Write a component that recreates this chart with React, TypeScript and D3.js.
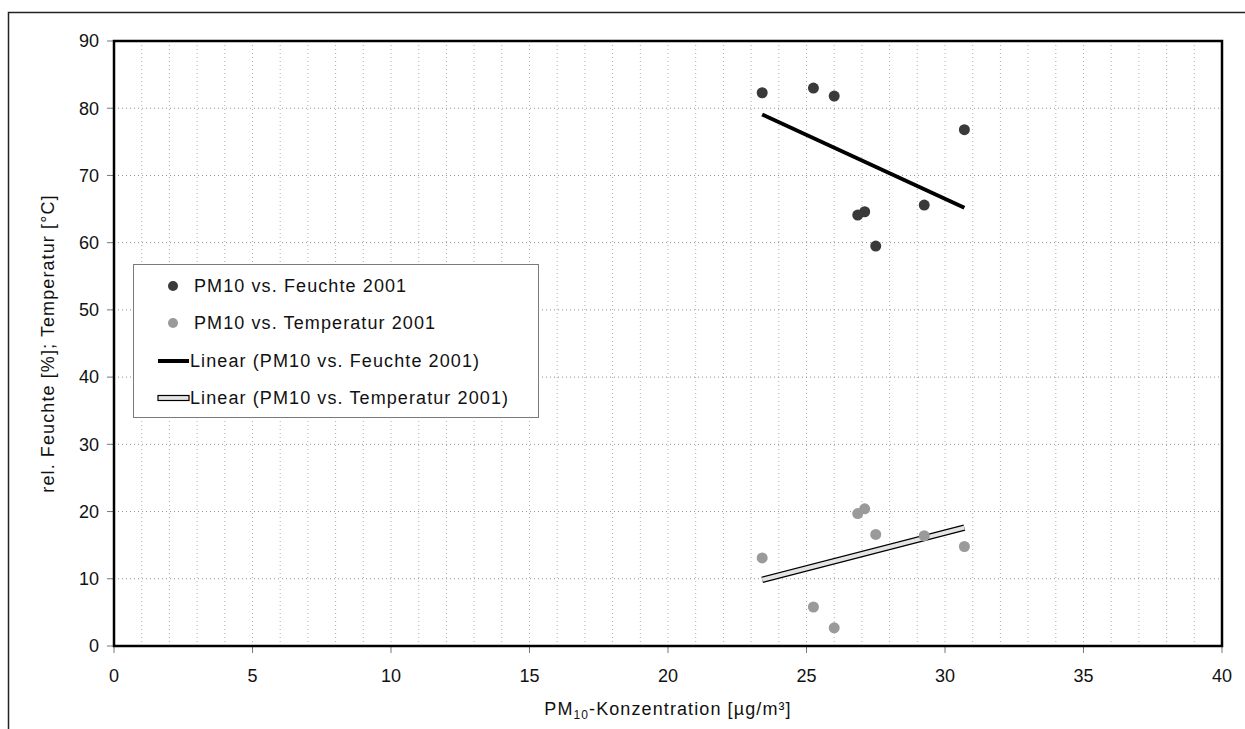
import React from "react";
import * as d3 from "d3";

// PM10 concentration (x) and the two measured series
const pm10 = [23.4, 25.25, 26.0, 26.85, 27.1, 27.5, 29.25, 30.7];
const feuchte = [82.3, 83.0, 81.8, 64.1, 64.6, 59.5, 65.6, 76.8];
const temperatur = [13.1, 5.8, 2.7, 19.7, 20.4, 16.6, 16.4, 14.8];

const xTicks = [0, 5, 10, 15, 20, 25, 30, 35, 40];
const yTicks = [0, 10, 20, 30, 40, 50, 60, 70, 80, 90];
const legendLabels = [
  "PM10 vs. Feuchte 2001",
  "PM10 vs. Temperatur 2001",
  "Linear (PM10 vs. Feuchte 2001)",
  "Linear (PM10 vs. Temperatur 2001)",
];

const W = 1245;
const H = 729;
const margin = { top: 41, right: 23, bottom: 83, left: 114 };
const FONT = "'Liberation Sans', Arial, sans-serif";
const FS = 18;
const LS = 1.1;

// least squares fit
function fit(xs: number[], ys: number[]) {
  const mx = d3.mean(xs) as number;
  const my = d3.mean(ys) as number;
  const sxy = d3.sum(xs, (x, i) => (x - mx) * (ys[i] - my));
  const sxx = d3.sum(xs, (x) => (x - mx) ** 2);
  const b = sxy / sxx;
  const a = my - b * mx;
  const [x0, x1] = d3.extent(xs) as [number, number];
  return [
    [x0, a + b * x0],
    [x1, a + b * x1],
  ] as [number, number][];
}

export default function App() {
  const x = d3.scaleLinear().domain([0, 40]).range([margin.left, W - margin.right]);
  const y = d3.scaleLinear().domain([0, 90]).range([H - margin.bottom, margin.top]);
  const line = d3
    .line<[number, number]>()
    .x((d) => x(d[0]))
    .y((d) => y(d[1]));

  const fitF = fit(pm10, feuchte);
  const fitT = fit(pm10, temperatur);
  const minorX = d3.range(1, 40);

  const lx = 133;
  const ly = 264;
  const rowY = [286, 323, 361, 398];

  return (
    <svg
      width={W}
      height={H}
      style={{ position: "absolute", left: 0, top: 0, background: "#fff" }}
      fontFamily={FONT}
    >
      {/* outer frame */}
      <path d={`M8.5,${H} V12.5 H${W}`} fill="none" stroke="#222" strokeWidth={1.5} />

      {/* grid */}
      <g>
        {minorX.map((v) => (
          <line
            key={"gx" + v}
            x1={x(v)}
            x2={x(v)}
            y1={y(90)}
            y2={y(0)}
            stroke="#b0b0b0"
            strokeWidth={1}
            strokeDasharray="1,3"
          />
        ))}
        {yTicks.slice(1, -1).map((v) => (
          <line
            key={"gy" + v}
            x1={x(0)}
            x2={x(40)}
            y1={y(v)}
            y2={y(v)}
            stroke="#909090"
            strokeWidth={1}
            strokeDasharray="1,3"
          />
        ))}
      </g>

      {/* ticks */}
      {yTicks.map((v) => (
        <g key={"yt" + v}>
          <line x1={x(0) - 7} x2={x(0)} y1={y(v)} y2={y(v)} stroke="#777" />
          <text x={x(0) - 15} y={y(v)} dy="0.35em" textAnchor="end" fontSize={FS} fill="#111">
            {v}
          </text>
        </g>
      ))}
      {xTicks.map((v) => (
        <g key={"xt" + v}>
          <line x1={x(v)} x2={x(v)} y1={y(0)} y2={y(0) + 7} stroke="#777" />
          <text x={x(v)} y={y(0) + 36} textAnchor="middle" fontSize={FS} fill="#111">
            {v}
          </text>
        </g>
      ))}

      {/* plot frame */}
      <rect
        x={x(0)}
        y={y(90)}
        width={x(40) - x(0)}
        height={y(0) - y(90)}
        fill="none"
        stroke="#000"
        strokeWidth={2.5}
      />

      {/* axis titles */}
      <text
        x={(x(0) + x(40)) / 2}
        y={715}
        textAnchor="middle"
        fontSize={FS}
        letterSpacing={LS}
        fill="#111"
      >
        PM<tspan fontSize={12} dy={4}>10</tspan>
        <tspan dy={-4}>-Konzentration [µg/m³]</tspan>
      </text>
      <text
        transform={`translate(54,${(y(0) + y(90)) / 2}) rotate(-90)`}
        textAnchor="middle"
        fontSize={FS}
        letterSpacing={LS}
        fill="#111"
      >
        rel. Feuchte [%]; Temperatur [°C]
      </text>

      {/* trend lines */}
      <path d={line(fitF) as string} stroke="#000" strokeWidth={4} fill="none" />
      <path d={line(fitT) as string} stroke="#000" strokeWidth={6.5} fill="none" />
      <path d={line(fitT) as string} stroke="#e4e4e4" strokeWidth={4} fill="none" />

      {/* points */}
      {pm10.map((v, i) => (
        <circle key={"pt" + i} cx={x(v)} cy={y(temperatur[i])} r={5.5} fill="#9a9a9a" />
      ))}
      {pm10.map((v, i) => (
        <circle key={"pf" + i} cx={x(v)} cy={y(feuchte[i])} r={5.5} fill="#3a3a3a" />
      ))}

      {/* legend */}
      <rect x={lx + 0.5} y={ly + 0.5} width={405} height={153} fill="#fff" stroke="#7a7a7a" />
      <circle cx={173} cy={rowY[0]} r={5} fill="#3a3a3a" />
      <circle cx={173} cy={rowY[1]} r={5} fill="#9a9a9a" />
      <line x1={158} x2={189} y1={rowY[2]} y2={rowY[2]} stroke="#000" strokeWidth={4} />
      <rect x={158} y={rowY[3] - 2.5} width={31} height={5} fill="#e4e4e4" stroke="#000" strokeWidth={1.2} />
      {legendLabels.map((t, i) => (
        <text
          key={t}
          x={i < 2 ? 194 : 190}
          y={rowY[i]}
          dy="0.35em"
          fontSize={FS}
          letterSpacing={LS}
          fill="#111"
        >
          {t}
        </text>
      ))}
    </svg>
  );
}
